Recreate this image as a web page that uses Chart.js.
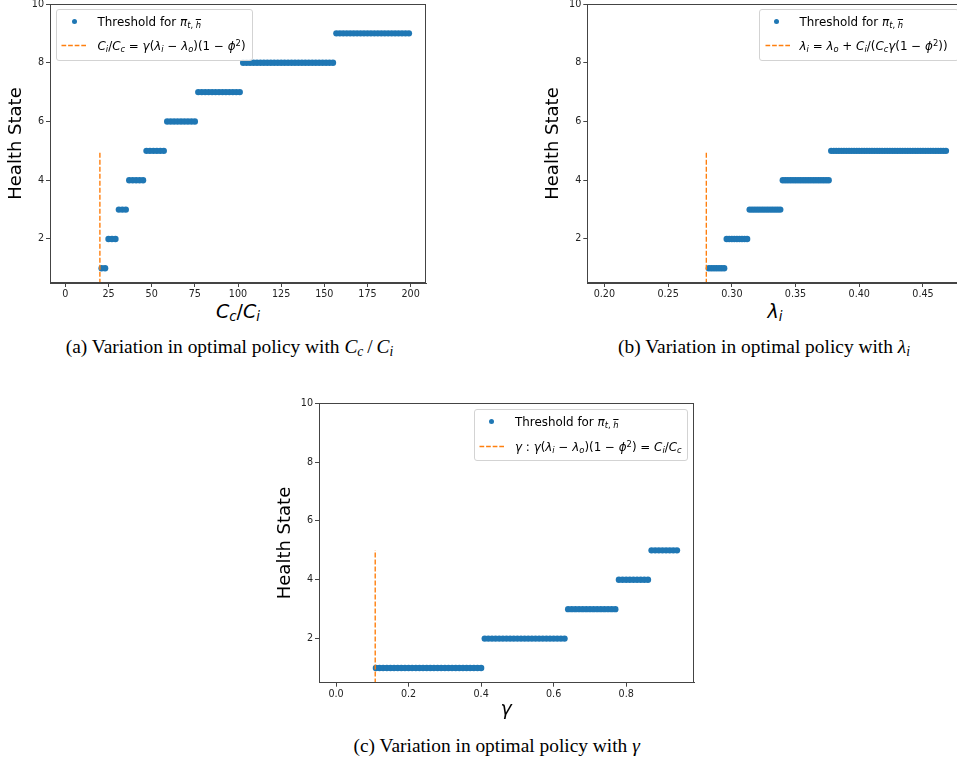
<!DOCTYPE html>
<html><head><meta charset="utf-8">
<script src="https://cdn.jsdelivr.net/npm/chart.js@4.4.0/dist/chart.umd.min.js"></script>
<style>
body{margin:0;background:#fff;}
#page{position:relative;width:957px;height:764px;overflow:hidden;background:#fff;font-family:"DejaVu Sans",sans-serif;}
canvas{position:absolute;}
.xt{position:absolute;font-family:"DejaVu Sans",sans-serif;font-size:19px;line-height:1;white-space:nowrap;transform:translateX(-50%);color:#000}
.sb{font-size:0.7em;vertical-align:-0.25em;line-height:0}
.sp{font-size:0.7em;vertical-align:0.5em;line-height:0}
.bar{text-decoration:overline;}
.cap{position:absolute;font-family:"Liberation Serif","Times New Roman",serif;font-size:19.4px;line-height:1;white-space:nowrap;transform:translateX(-50%);color:#000}
.leg{position:absolute;border:1px solid #d3d3d3;border-radius:3px;background:rgba(255,255,255,0.8);box-sizing:border-box;}
.row{position:absolute;line-height:14px;white-space:nowrap;font-family:"DejaVu Sans",sans-serif;font-size:11.9px;color:#000}
.dot{position:absolute;width:5px;height:5px;border-radius:50%;background:#1f77b4}
.dash{position:absolute;}
</style>
</head><body>
<div id="page">
<canvas id="cA" width="440" height="300" style="left:0px;top:0px"></canvas>
<canvas id="cB" width="440" height="300" style="left:530px;top:0px"></canvas>
<canvas id="cC" width="440" height="310" style="left:270px;top:390px"></canvas>

<!-- x axis titles -->
<div class="xt" style="left:238px;top:302px"><i>C</i><span class="sb"><i>c</i></span>/<i>C</i><span class="sb"><i>i</i></span></div>
<div class="xt" style="left:775px;top:302px"><i>λ</i><span class="sb"><i>i</i></span></div>
<div class="xt" style="left:506px;top:699px"><i>γ</i></div>

<!-- legends -->
<div class="leg" style="left:56px;top:9px;width:197px;height:52px"></div>
<div class="dot" style="left:71.5px;top:19px"></div>
<svg class="dash" style="left:61px;top:44px" width="26" height="3"><line x1="0.5" y1="1.5" x2="25" y2="1.5" stroke="#ff7f0e" stroke-width="1.5" stroke-dasharray="4.7 1.9"/></svg>
<div class="row" style="left:97.5px;top:14.5px">Threshold for <i>π</i><span class="sb"><i>t</i>, <i class="bar">h</i></span></div>
<div class="row" style="left:97.5px;top:38.5px"><i>C</i><span class="sb"><i>i</i></span>/<i>C</i><span class="sb"><i>c</i></span> = <i>γ</i>(<i>λ</i><span class="sb"><i>i</i></span> − <i>λ</i><span class="sb"><i>o</i></span>)(1 − <i>ϕ</i><span class="sp">2</span>)</div>

<div class="leg" style="left:759px;top:9px;width:200px;height:52px"></div>
<div class="dot" style="left:774.2px;top:19px"></div>
<svg class="dash" style="left:764.5px;top:44px" width="26" height="3"><line x1="0.5" y1="1.5" x2="25" y2="1.5" stroke="#ff7f0e" stroke-width="1.5" stroke-dasharray="4.7 1.9"/></svg>
<div class="row" style="left:799.5px;top:14.5px">Threshold for <i>π</i><span class="sb"><i>t</i>, <i class="bar">h</i></span></div>
<div class="row" style="left:799.5px;top:38.5px"><i>λ</i><span class="sb"><i>i</i></span> = <i>λ</i><span class="sb"><i>o</i></span> + <i>C</i><span class="sb"><i>i</i></span>/(<i>C</i><span class="sb"><i>c</i></span><i>γ</i>(1 − <i>ϕ</i><span class="sp">2</span>))</div>

<div class="leg" style="left:474px;top:409px;width:214px;height:52px"></div>
<div class="dot" style="left:489.2px;top:419.2px"></div>
<svg class="dash" style="left:479px;top:445px" width="26" height="3"><line x1="0.5" y1="1.5" x2="25" y2="1.5" stroke="#ff7f0e" stroke-width="1.5" stroke-dasharray="4.7 1.9"/></svg>
<div class="row" style="left:515px;top:414.7px">Threshold for <i>π</i><span class="sb"><i>t</i>, <i class="bar">h</i></span></div>
<div class="row" style="left:515px;top:439.5px"><i>γ</i> : <i>γ</i>(<i>λ</i><span class="sb"><i>i</i></span> − <i>λ</i><span class="sb"><i>o</i></span>)(1 − <i>ϕ</i><span class="sp">2</span>) = <i>C</i><span class="sb"><i>i</i></span>/<i>C</i><span class="sb"><i>c</i></span></div>

<!-- captions -->
<div class="cap" style="left:229.5px;top:337px">(a) Variation in optimal policy with <i>C</i><span class="sb"><i>c</i></span>&#8201;/&#8201;<i>C</i><span class="sb"><i>i</i></span></div>
<div class="cap" style="left:764px;top:337px">(b) Variation in optimal policy with <i>λ</i><span class="sb"><i>i</i></span></div>
<div class="cap" style="left:496.7px;top:736.4px">(c) Variation in optimal policy with <i>γ</i></div>
</div>

<script>
// ---- data ----
const yTicks = [2, 4, 6, 8, 10];
const xTicksA = [0, 25, 50, 75, 100, 125, 150, 175, 200];
const xTicksB = [0.20, 0.25, 0.30, 0.35, 0.40, 0.45];
const xTicksC = [0.0, 0.2, 0.4, 0.6, 0.8];

const thresholdA = 20;
const thresholdB = 0.28;
const thresholdC = 0.108;
const thresholdLineY = [0, 5];

const xA = [21,23,25,27,29,31,33,35,37,39,41,43,45,47,49,51,53,55,57,59,61,63,65,67,69,71,73,75,77,79,81,83,85,87,89,91,93,95,97,99,101,103,105,107,109,111,113,115,117,119,121,123,125,127,129,131,133,135,137,139,141,143,145,147,149,151,153,155,157,159,161,163,165,167,169,171,173,175,177,179,181,183,185,187,189,191,193,195,197,199];
const yA = [1,1,
  2,2,2,
  3,3,3,
  4,4,4,4,4,
  5,5,5,5,5,5,
  6,6,6,6,6,6,6,6,6,
  7,7,7,7,7,7,7,7,7,7,7,7,7,
  8,8,8,8,8,8,8,8,8,8,8,8,8,8,8,8,8,8,8,8,8,8,8,8,8,8,8,
  9,9,9,9,9,9,9,9,9,9,9,9,9,9,9,9,9,9,9,9,9,9];

const xB = [0.282,0.284,0.286,0.288,0.290,0.292,0.294,
  0.296,0.298,0.300,0.302,0.304,0.306,0.308,0.310,0.312,
  0.314,0.316,0.318,0.320,0.322,0.324,0.326,0.328,0.330,0.332,0.334,0.336,0.338,
  0.340,0.342,0.344,0.346,0.348,0.350,0.352,0.354,0.356,0.358,0.360,0.362,0.364,0.366,0.368,0.370,0.372,0.374,0.376,
  0.378,0.380,0.382,0.384,0.386,0.388,0.390,0.392,0.394,0.396,0.398,0.400,0.402,0.404,0.406,0.408,0.410,0.412,0.414,0.416,0.418,0.420,0.422,0.424,0.426,0.428,0.430,0.432,0.434,0.436,0.438,0.440,0.442,0.444,0.446,0.448,0.450,0.452,0.454,0.456,0.458,0.460,0.462,0.464,0.466,0.468];
const yB = [1,1,1,1,1,1,1,
  2,2,2,2,2,2,2,2,2,
  3,3,3,3,3,3,3,3,3,3,3,3,3,
  4,4,4,4,4,4,4,4,4,4,4,4,4,4,4,4,4,4,4,
  5,5,5,5,5,5,5,5,5,5,5,5,5,5,5,5,5,5,5,5,5,5,5,5,5,5,5,5,5,5,5,5,5,5,5,5,5,5,5,5,5,5,5,5,5,5];

const xC = [0.11,0.12,0.13,0.14,0.15,0.16,0.17,0.18,0.19,0.20,0.21,0.22,0.23,0.24,0.25,0.26,0.27,0.28,0.29,0.30,0.31,0.32,0.33,0.34,0.35,0.36,0.37,0.38,0.39,0.40,
  0.41,0.42,0.43,0.44,0.45,0.46,0.47,0.48,0.49,0.50,0.51,0.52,0.53,0.54,0.55,0.56,0.57,0.58,0.59,0.60,0.61,0.62,0.63,
  0.64,0.65,0.66,0.67,0.68,0.69,0.70,0.71,0.72,0.73,0.74,0.75,0.76,0.77,
  0.78,0.79,0.80,0.81,0.82,0.83,0.84,0.85,0.86,
  0.87,0.88,0.89,0.90,0.91,0.92,0.93,0.94];
const yC = [1,1,1,1,1,1,1,1,1,1,1,1,1,1,1,1,1,1,1,1,1,1,1,1,1,1,1,1,1,1,
  2,2,2,2,2,2,2,2,2,2,2,2,2,2,2,2,2,2,2,2,2,2,2,
  3,3,3,3,3,3,3,3,3,3,3,3,3,3,
  4,4,4,4,4,4,4,4,4,
  5,5,5,5,5,5,5,5];

// ---- drawing ----
const framePlugin = {
  id: 'frame',
  afterDraw(c) {
    const a = c.chartArea, ctx = c.ctx;
    ctx.save();
    ctx.strokeStyle = '#444';
    ctx.lineWidth = 1;
    ctx.strokeRect(Math.round(a.left) + 0.5, Math.round(a.top) + 0.5,
                   Math.round(a.right) - Math.round(a.left) - 1, Math.round(a.bottom) - Math.round(a.top) - 1);
    ctx.restore();
  }
};

function zeroPad(s) { s.paddingLeft = 0; s.paddingRight = 0; s.paddingTop = 0; s.paddingBottom = 0; }

function build(id, p) {
  const pts = p.xs.map((x, i) => ({x: x, y: p.ys[i]}));
  const line = thresholdLineY.map(y => ({x: p.thr, y: y}));
  const tickFont = {family: 'DejaVu Sans', size: 9.6};
  new Chart(document.getElementById(id), {
    type: 'scatter',
    data: {datasets: [
      {label: 'threshold', data: line, showLine: true, borderColor: '#ff7f0e', borderWidth: 1.4,
       borderDash: [5, 2], pointRadius: 0, fill: false, order: 0},
      {label: 'Threshold for pi', data: pts, pointRadius: 3.2, pointBackgroundColor: '#1f77b4',
       backgroundColor: '#1f77b4', borderColor: '#1f77b4', pointBorderWidth: 0, order: 1}
    ]},
    options: {
      responsive: false, animation: false, devicePixelRatio: 1,
      layout: {padding: p.pad},
      plugins: {legend: {display: false}, tooltip: {enabled: false}},
      scales: {
        x: {
          type: 'linear', position: 'bottom', min: p.xMin, max: p.xMax,
          afterBuildTicks: s => { s.ticks = p.xTicks.map(v => ({value: v})); },
          afterFit: s => { s.height = p.xH; zeroPad(s); },
          grid: {drawOnChartArea: false, drawTicks: true, tickLength: 4, color: '#444'},
          border: {display: true, color: '#444', width: 1},
          ticks: {color: '#222', font: tickFont, padding: 2, autoSkip: false, maxRotation: 0,
                  callback: v => Number(v).toFixed(p.dec)}
        },
        y: {
          type: 'linear', position: 'left', min: 0.5, max: 10,
          afterBuildTicks: s => { s.ticks = yTicks.map(v => ({value: v})); },
          afterFit: s => { s.width = p.yW; zeroPad(s); },
          grid: {drawOnChartArea: false, drawTicks: true, tickLength: 4, color: '#444'},
          border: {display: true, color: '#444', width: 1},
          ticks: {color: '#222', font: tickFont, padding: 2, autoSkip: false,
                  callback: v => String(v)},
          title: {display: true, text: 'Health State', color: '#000',
                  font: {family: 'DejaVu Sans', size: 18}, padding: {top: p.tPad, bottom: 0}}
        }
      }
    },
    plugins: [framePlugin]
  });
}

build('cA', {xs: xA, ys: yA, thr: thresholdA, xMin: -8.9, xMax: 208.9, xTicks: xTicksA, dec: 0,
  pad: {left: 0, top: 3, right: 14, bottom: 0}, yW: 50, xH: 17, tPad: 6});
build('cB', {xs: xB, ys: yB, thr: thresholdB, xMin: 0.1866, xMax: 0.4814, xTicks: xTicksB, dec: 2,
  pad: {left: 0, top: 3, right: 7, bottom: 0}, yW: 57.3, xH: 17, tPad: 13});
build('cC', {xs: xC, ys: yC, thr: thresholdC, xMin: -0.047, xMax: 0.987, xTicks: xTicksC, dec: 1,
  pad: {left: 0, top: 13.3, right: 16, bottom: 0}, yW: 49, xH: 17.3, tPad: 5});
</script>
</body></html>
